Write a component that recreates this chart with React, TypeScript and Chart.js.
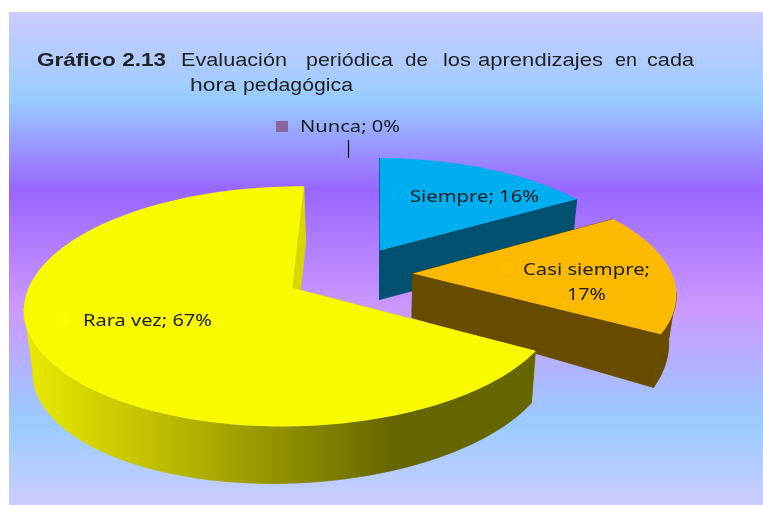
import React, { useEffect, useRef } from "react";
import { Chart, registerables } from "chart.js";

Chart.register(...registerables);

// ---- data ----
const categories = ["Siempre", "Casi siempre", "Rara vez", "Nunca"];
const values = [16, 17, 67, 0];

// ---- styles / geometry ----
const faceColors = ["#00AEEF", "#FBBA00", "#F9F900", "#8064A2"];
const keyColors = ["#00B0F0", "#FEBE00", "#FCFC00", "#8A659F"];
const wallColors = ["#005070", "#674C00", "#D8D800", "#4D3C61"];
const wallBase = [49, 44, 55, 0];
const wallSlope = [0, 0.15, 0, 0];
const wallLean = [0, 0, 0.02, 0];
const explode = [55.5, 55.5, 55.5, 0];
const VIEW = { px: 349, py: 274, rx: 259, ry: 113, a: 0.15, vx: 377, sx: 0.0254, y0: 273 };

const titleRuns = [
  { t: "Gráfico 2.13", x: 37, w: 129, y: 66, bold: true },
  { t: "Evaluación", x: 181, w: 106, y: 66 },
  { t: "periódica", x: 306, w: 87, y: 66 },
  { t: "de", x: 405, w: 23, y: 66 },
  { t: "los", x: 443, w: 28, y: 66 },
  { t: "aprendizajes", x: 478, w: 125, y: 66 },
  { t: "en", x: 615, w: 22, y: 66 },
  { t: "cada", x: 647, w: 47, y: 66 },
  { t: "hora", x: 190, w: 46, y: 91 },
  { t: "pedagógica", x: 243, w: 110, y: 91 },
];

const labelLines: { i: number; parts: { t: string; x: number; w: number; y: number }[]; key: number[] }[] = [
  { i: 0, parts: [{ t: `${categories[0]}; ${values[0]}%`, x: 410, w: 129, y: 202 }], key: [388, 190, 10, 11] },
  {
    i: 1,
    parts: [
      { t: `${categories[1]};`, x: 523, w: 127, y: 275 },
      { t: `${values[1]}%`, x: 567, w: 39, y: 300 },
    ],
    key: [502, 262, 10, 11],
  },
  { i: 2, parts: [{ t: `${categories[2]}; ${values[2]}%`, x: 83, w: 129, y: 326 }], key: [57, 313, 12, 12] },
  { i: 3, parts: [{ t: `${categories[3]}; ${values[3]}%`, x: 300, w: 100, y: 132 }], key: [276, 121, 12, 11] },
];
const leader = { x: 348.5, y1: 140, y2: 158 };

const bgStops: [number, string][] = [
  [0, "#CCCCFF"],
  [0.178, "#99CCFF"],
  [0.36, "#9966FF"],
  [0.604, "#CC99FF"],
  [0.834, "#99CCFF"],
  [1, "#CCCCFF"],
];
const BG = { x: 9, y: 12, r: 763, b: 505 };

const project = (u: number, v: number): [number, number] => {
  const p = 1 - VIEW.a * v;
  return [VIEW.px + (VIEW.rx * u) / p, VIEW.py + (VIEW.ry * v) / p];
};

const fitText = (ctx: CanvasRenderingContext2D, t: string, x: number, y: number, w: number) => {
  const m = ctx.measureText(t).width;
  ctx.save();
  ctx.translate(x, y);
  ctx.scale(w / m, 1);
  ctx.fillText(t, 0, 0);
  ctx.restore();
};

const pie3d = {
  id: "pie3d",
  beforeDraw(chart: any) {
    const { ctx } = chart;
    const g = ctx.createLinearGradient(0, BG.y, 0, BG.b);
    bgStops.forEach(([o, c]) => g.addColorStop(o, c));
    ctx.fillStyle = g;
    ctx.fillRect(BG.x, BG.y, BG.r - BG.x, BG.b - BG.y);
  },
  beforeDatasetsDraw(chart: any) {
    const { ctx } = chart;
    const meta = chart.getDatasetMeta(0);
    meta.data.forEach((el: any, i: number) => {
      const { startAngle, endAngle, outerRadius: R } = el;
      const sweep = endAngle - startAngle;
      if (sweep <= 0) return;
      const off = el.options.offset / R;
      const mid = (startAngle + endAngle) / 2;
      const ox = Math.cos(mid) * off;
      const oy = Math.sin(mid) * off;
      const n = Math.ceil(sweep * 50);
      const top: [number, number][] = [];
      const front: [number, number][] = [];
      for (let k = 0; k <= n; k++) {
        const a = startAngle + (sweep * k) / n;
        const p = project(ox + Math.cos(a), oy + Math.sin(a));
        top.push(p);
        if (Math.sin(a) >= 0.15) front.push(p);
      }
      const apex = project(ox, oy);
      const drop = ([x, y]: [number, number]): [number, number] => [
        x + VIEW.sx * (VIEW.vx - x),
        y + wallBase[i] + wallSlope[i] * (y - VIEW.y0) + wallLean[i] * (VIEW.vx - x),
      ];
      const poly = (pts: number[][], seal = false) => {
        ctx.beginPath();
        pts.forEach((p, k) => (k ? ctx.lineTo(p[0], p[1]) : ctx.moveTo(p[0], p[1])));
        ctx.closePath();
        ctx.fill();
        if (seal) ctx.stroke();
      };
      ctx.save();
      ctx.lineWidth = 0.8;
      // radial walls
      ctx.fillStyle = ctx.strokeStyle = wallColors[i];
      poly([apex, top[0], drop(top[0]), drop(apex)], true);
      poly([apex, top[n], drop(top[n]), drop(apex)], true);
      // outer wall (only the part that faces the viewer)
      let wall: any = wallColors[i];
      if (i === 2) {
        wall = ctx.createLinearGradient(30, 0, 393, 0);
        wall.addColorStop(0, "#E8E800");
        wall.addColorStop(0.4, "#B8B800");
        wall.addColorStop(1, "#666600");
      }
      ctx.fillStyle = ctx.strokeStyle = wall;
      if (front.length > 1) poly([...front, ...front.map(drop).reverse()], true);
      // top face
      ctx.fillStyle = el.options.backgroundColor;
      poly([apex, ...top]);
      ctx.restore();
    });
    return false;
  },
  afterDraw(chart: any) {
    const { ctx } = chart;
    ctx.save();
    ctx.textBaseline = "alphabetic";
    ctx.fillStyle = "#222222";
    titleRuns.forEach((r) => {
      ctx.font = `${r.bold ? "bold " : ""}19px "Liberation Sans"`;
      fitText(ctx, r.t, r.x, r.y, r.w);
    });
    ctx.strokeStyle = "#111111";
    ctx.lineWidth = 1.2;
    ctx.beginPath();
    ctx.moveTo(leader.x, leader.y1);
    ctx.lineTo(leader.x, leader.y2);
    ctx.stroke();
    ctx.font = '17px "Noto Sans"';
    labelLines.forEach((l) => {
      ctx.fillStyle = keyColors[l.i];
      ctx.fillRect(l.key[0], l.key[1], l.key[2], l.key[3]);
      ctx.fillStyle = "#1C1C1C";
      l.parts.forEach((p) => fitText(ctx, p.t, p.x, p.y, p.w));
    });
    ctx.restore();
  },
};

export default function App() {
  const ref = useRef<HTMLCanvasElement>(null);
  useEffect(() => {
    const chart = new Chart(ref.current!, {
      type: "pie",
      data: {
        labels: categories,
        datasets: [
          {
            data: values,
            backgroundColor: faceColors,
            offset: explode,
            borderWidth: 0,
          },
        ],
      },
      options: {
        responsive: false,
        animation: false,
        events: [],
        rotation: 1,
        layout: { padding: 0 },
        plugins: { legend: { display: false }, tooltip: { enabled: false }, title: { display: false } },
      },
      plugins: [pie3d],
    } as any);
    return () => chart.destroy();
  }, []);
  return (
    <div style={{ position: "absolute", left: 0, top: 0, width: 763, height: 505, background: "#fff", overflow: "hidden" }}>
      <canvas ref={ref} width={763} height={505} style={{ display: "block", filter: "blur(0.5px)" }} />
    </div>
  );
}
